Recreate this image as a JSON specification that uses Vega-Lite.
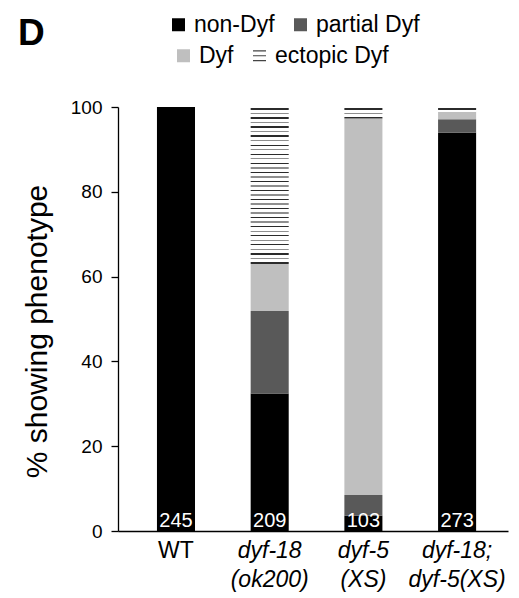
{
  "$schema": "https://vega.github.io/schema/vega-lite/v6.json",
  "autosize": "none",
  "width": 390,
  "height": 424,
  "padding": {"left": 118, "top": 107, "right": 11, "bottom": 67},
  "background": "white",
  "config": {"view": {"stroke": null}, "font": "Liberation Sans",
    "legend": {"title": null, "orient": "none", "direction": "horizontal", "symbolType": "square", "symbolSize": 169,
      "labelFontSize": 23, "labelFont": "Liberation Sans", "labelColor": "black", "labelOffset": 4,
      "columnPadding": 14, "symbolStrokeWidth": 0}},
  "title": {"text": "D", "anchor": "start", "frame": "group", "fontSize": 37, "fontWeight": "bold", "font": "Liberation Sans", "color": "black", "dx": -100, "baseline": "alphabetic", "offset": 0, "dy": 69},
  "data": {"values": [
    {"genotype": "WT", "category": "non-Dyf", "pct": 100, "n": 245},
    {"genotype": "WT", "category": "partial Dyf", "pct": 0, "n": 245},
    {"genotype": "WT", "category": "Dyf", "pct": 0, "n": 245},
    {"genotype": "WT", "category": "ectopic Dyf", "pct": 0, "n": 245},
    {"genotype": "dyf-18 (ok200)", "category": "non-Dyf", "pct": 32.4, "n": 209},
    {"genotype": "dyf-18 (ok200)", "category": "partial Dyf", "pct": 19.5, "n": 209},
    {"genotype": "dyf-18 (ok200)", "category": "Dyf", "pct": 11.1, "n": 209},
    {"genotype": "dyf-18 (ok200)", "category": "ectopic Dyf", "pct": 37.0, "n": 209},
    {"genotype": "dyf-5 (XS)", "category": "non-Dyf", "pct": 3.6, "n": 103},
    {"genotype": "dyf-5 (XS)", "category": "partial Dyf", "pct": 4.9, "n": 103},
    {"genotype": "dyf-5 (XS)", "category": "Dyf", "pct": 88.8, "n": 103},
    {"genotype": "dyf-5 (XS)", "category": "ectopic Dyf", "pct": 2.7, "n": 103},
    {"genotype": "dyf-18; dyf-5(XS)", "category": "non-Dyf", "pct": 93.9, "n": 273},
    {"genotype": "dyf-18; dyf-5(XS)", "category": "partial Dyf", "pct": 3.2, "n": 273},
    {"genotype": "dyf-18; dyf-5(XS)", "category": "Dyf", "pct": 1.8, "n": 273},
    {"genotype": "dyf-18; dyf-5(XS)", "category": "ectopic Dyf", "pct": 1.1, "n": 273}
  ]},
  "transform": [
    {"calculate": "indexof(['non-Dyf','partial Dyf','Dyf','ectopic Dyf'], datum.category)", "as": "ord"},
    {"stack": "pct", "groupby": ["genotype"], "sort": [{"field": "ord", "order": "ascending"}], "as": ["y0", "y1"]}
  ],
  "encoding": {
    "x": {
      "field": "genotype", "type": "nominal", "sort": null,
      "scale": {"paddingInner": 0.594, "paddingOuter": 0.378, "align": 0.55},
      "axis": {
        "title": null, "ticks": false, "domainColor": "black", "domainWidth": 1.3,
        "labelAngle": 0, "labelFontSize": 23, "labelColor": "black", "labelFont": "Liberation Sans",
        "labelLineHeight": 29, "labelPadding": 8,
        "labelExpr": "split(datum.label, ' ')",
        "labelFontStyle": {"condition": {"test": "datum.value === 'WT'", "value": "normal"}, "value": "italic"}
      }
    }
  },
  "resolve": {"scale": {"color": "independent"}, "legend": {"color": "independent"}},
  "layer": [
    {
      "transform": [{"filter": "datum.category === 'non-Dyf' || datum.category === 'partial Dyf'"}],
      "mark": {"type": "bar"},
      "encoding": {
        "y": {"field": "y1", "type": "quantitative", "scale": {"domain": [0, 100]},
          "axis": {"title": "% showing phenotype", "values": [0, 20, 40, 60, 80, 100], "grid": false,
            "tickSize": 7, "tickColor": "black", "tickWidth": 1.3, "domainColor": "black", "domainWidth": 1.3,
            "labelFontSize": 19, "labelColor": "black", "labelFont": "Liberation Sans", "labelPadding": 9,
            "titleFontSize": 30, "titleFontWeight": "normal", "titleColor": "black", "titleFont": "Liberation Sans",
            "titlePadding": 18, "titleY": 224}},
        "y2": {"field": "y0"},
        "color": {
          "field": "category", "type": "nominal",
          "scale": {"domain": ["non-Dyf", "partial Dyf"], "range": ["#000000", "#595959"]},
          "legend": {"legendX": 49, "legendY": -94}
        }
      }
    },
    {
      "transform": [{"filter": "datum.category === 'Dyf' || datum.category === 'ectopic Dyf'"}],
      "mark": {"type": "bar"},
      "encoding": {
        "y": {"field": "y1", "type": "quantitative"},
        "y2": {"field": "y0"},
        "color": {
          "field": "category", "type": "nominal",
          "scale": {"domain": ["Dyf", "ectopic Dyf"], "range": ["#bfbfbf", "#ffffff"]},
          "legend": {"legendX": 54, "legendY": -63,
            "encode": {"symbols": {"update": {
              "shape": {"signal": "datum.value === 'ectopic Dyf' ? 'M-1,-0.75H1M-1,0H1M-1,0.75H1' : 'square'"},
              "stroke": {"signal": "datum.value === 'ectopic Dyf' ? '#444444' : 'transparent'"},
              "strokeWidth": {"signal": "datum.value === 'ectopic Dyf' ? 1.2 : 0"}
            }}}
          }
        }
      }
    },
    {
      "transform": [{"filter": "datum.category === 'ectopic Dyf' && datum.genotype === 'dyf-18 (ok200)'"}],
      "mark": {"type": "bar", "fill": {"gradient": "linear", "x1": 0, "y1": 0, "x2": 0, "y2": 1, "stops": [
        {"offset": 0, "color": "#ffffff"},
        {"offset": 0.0083, "color": "#ffffff"}, {"offset": 0.0083, "color": "#2b2b2b"}, {"offset": 0.0172, "color": "#2b2b2b"}, {"offset": 0.0172, "color": "#ffffff"},
        {"offset": 0.0371, "color": "#ffffff"}, {"offset": 0.0371, "color": "#8f8f8f"}, {"offset": 0.0461, "color": "#8f8f8f"}, {"offset": 0.0461, "color": "#ffffff"},
        {"offset": 0.0660, "color": "#ffffff"}, {"offset": 0.0660, "color": "#2b2b2b"}, {"offset": 0.0749, "color": "#2b2b2b"}, {"offset": 0.0749, "color": "#ffffff"},
        {"offset": 0.0948, "color": "#ffffff"}, {"offset": 0.0948, "color": "#8f8f8f"}, {"offset": 0.1038, "color": "#8f8f8f"}, {"offset": 0.1038, "color": "#ffffff"},
        {"offset": 0.1237, "color": "#ffffff"}, {"offset": 0.1237, "color": "#2b2b2b"}, {"offset": 0.1326, "color": "#2b2b2b"}, {"offset": 0.1326, "color": "#ffffff"},
        {"offset": 0.1525, "color": "#ffffff"}, {"offset": 0.1525, "color": "#8f8f8f"}, {"offset": 0.1615, "color": "#8f8f8f"}, {"offset": 0.1615, "color": "#ffffff"},
        {"offset": 0.1814, "color": "#ffffff"}, {"offset": 0.1814, "color": "#2b2b2b"}, {"offset": 0.1903, "color": "#2b2b2b"}, {"offset": 0.1903, "color": "#ffffff"},
        {"offset": 0.2103, "color": "#ffffff"}, {"offset": 0.2103, "color": "#8f8f8f"}, {"offset": 0.2192, "color": "#8f8f8f"}, {"offset": 0.2192, "color": "#ffffff"},
        {"offset": 0.2391, "color": "#ffffff"}, {"offset": 0.2391, "color": "#2b2b2b"}, {"offset": 0.2480, "color": "#2b2b2b"}, {"offset": 0.2480, "color": "#ffffff"},
        {"offset": 0.2680, "color": "#ffffff"}, {"offset": 0.2680, "color": "#8f8f8f"}, {"offset": 0.2769, "color": "#8f8f8f"}, {"offset": 0.2769, "color": "#ffffff"},
        {"offset": 0.2968, "color": "#ffffff"}, {"offset": 0.2968, "color": "#2b2b2b"}, {"offset": 0.3057, "color": "#2b2b2b"}, {"offset": 0.3057, "color": "#ffffff"},
        {"offset": 0.3257, "color": "#ffffff"}, {"offset": 0.3257, "color": "#8f8f8f"}, {"offset": 0.3346, "color": "#8f8f8f"}, {"offset": 0.3346, "color": "#ffffff"},
        {"offset": 0.3545, "color": "#ffffff"}, {"offset": 0.3545, "color": "#2b2b2b"}, {"offset": 0.3634, "color": "#2b2b2b"}, {"offset": 0.3634, "color": "#ffffff"},
        {"offset": 0.3834, "color": "#ffffff"}, {"offset": 0.3834, "color": "#8f8f8f"}, {"offset": 0.3923, "color": "#8f8f8f"}, {"offset": 0.3923, "color": "#ffffff"},
        {"offset": 0.4122, "color": "#ffffff"}, {"offset": 0.4122, "color": "#2b2b2b"}, {"offset": 0.4211, "color": "#2b2b2b"}, {"offset": 0.4211, "color": "#ffffff"},
        {"offset": 0.4411, "color": "#ffffff"}, {"offset": 0.4411, "color": "#8f8f8f"}, {"offset": 0.4500, "color": "#8f8f8f"}, {"offset": 0.4500, "color": "#ffffff"},
        {"offset": 0.4699, "color": "#ffffff"}, {"offset": 0.4699, "color": "#2b2b2b"}, {"offset": 0.4789, "color": "#2b2b2b"}, {"offset": 0.4789, "color": "#ffffff"},
        {"offset": 0.4988, "color": "#ffffff"}, {"offset": 0.4988, "color": "#8f8f8f"}, {"offset": 0.5077, "color": "#8f8f8f"}, {"offset": 0.5077, "color": "#ffffff"},
        {"offset": 0.5276, "color": "#ffffff"}, {"offset": 0.5276, "color": "#2b2b2b"}, {"offset": 0.5366, "color": "#2b2b2b"}, {"offset": 0.5366, "color": "#ffffff"},
        {"offset": 0.5565, "color": "#ffffff"}, {"offset": 0.5565, "color": "#8f8f8f"}, {"offset": 0.5654, "color": "#8f8f8f"}, {"offset": 0.5654, "color": "#ffffff"},
        {"offset": 0.5854, "color": "#ffffff"}, {"offset": 0.5854, "color": "#2b2b2b"}, {"offset": 0.5943, "color": "#2b2b2b"}, {"offset": 0.5943, "color": "#ffffff"},
        {"offset": 0.6142, "color": "#ffffff"}, {"offset": 0.6142, "color": "#8f8f8f"}, {"offset": 0.6231, "color": "#8f8f8f"}, {"offset": 0.6231, "color": "#ffffff"},
        {"offset": 0.6431, "color": "#ffffff"}, {"offset": 0.6431, "color": "#2b2b2b"}, {"offset": 0.6520, "color": "#2b2b2b"}, {"offset": 0.6520, "color": "#ffffff"},
        {"offset": 0.6719, "color": "#ffffff"}, {"offset": 0.6719, "color": "#8f8f8f"}, {"offset": 0.6808, "color": "#8f8f8f"}, {"offset": 0.6808, "color": "#ffffff"},
        {"offset": 0.7008, "color": "#ffffff"}, {"offset": 0.7008, "color": "#2b2b2b"}, {"offset": 0.7097, "color": "#2b2b2b"}, {"offset": 0.7097, "color": "#ffffff"},
        {"offset": 0.7296, "color": "#ffffff"}, {"offset": 0.7296, "color": "#8f8f8f"}, {"offset": 0.7385, "color": "#8f8f8f"}, {"offset": 0.7385, "color": "#ffffff"},
        {"offset": 0.7585, "color": "#ffffff"}, {"offset": 0.7585, "color": "#2b2b2b"}, {"offset": 0.7674, "color": "#2b2b2b"}, {"offset": 0.7674, "color": "#ffffff"},
        {"offset": 0.7873, "color": "#ffffff"}, {"offset": 0.7873, "color": "#8f8f8f"}, {"offset": 0.7962, "color": "#8f8f8f"}, {"offset": 0.7962, "color": "#ffffff"},
        {"offset": 0.8162, "color": "#ffffff"}, {"offset": 0.8162, "color": "#2b2b2b"}, {"offset": 0.8251, "color": "#2b2b2b"}, {"offset": 0.8251, "color": "#ffffff"},
        {"offset": 0.8450, "color": "#ffffff"}, {"offset": 0.8450, "color": "#8f8f8f"}, {"offset": 0.8540, "color": "#8f8f8f"}, {"offset": 0.8540, "color": "#ffffff"},
        {"offset": 0.8739, "color": "#ffffff"}, {"offset": 0.8739, "color": "#2b2b2b"}, {"offset": 0.8828, "color": "#2b2b2b"}, {"offset": 0.8828, "color": "#ffffff"},
        {"offset": 0.9027, "color": "#ffffff"}, {"offset": 0.9027, "color": "#8f8f8f"}, {"offset": 0.9116, "color": "#8f8f8f"}, {"offset": 0.9116, "color": "#ffffff"},
        {"offset": 0.9316, "color": "#ffffff"}, {"offset": 0.9316, "color": "#2b2b2b"}, {"offset": 0.9405, "color": "#2b2b2b"}, {"offset": 0.9405, "color": "#ffffff"},
        {"offset": 0.9604, "color": "#ffffff"}, {"offset": 0.9604, "color": "#8f8f8f"}, {"offset": 0.9694, "color": "#8f8f8f"}, {"offset": 0.9694, "color": "#ffffff"},
        {"offset": 0.9893, "color": "#ffffff"}, {"offset": 0.9893, "color": "#2b2b2b"}, {"offset": 1, "color": "#2b2b2b"}
      ]}},
      "encoding": {"y": {"field": "y1", "type": "quantitative"}, "y2": {"field": "y0"}}
    },
    {
      "transform": [{"filter": "datum.category === 'ectopic Dyf' && datum.genotype === 'dyf-5 (XS)'"}],
      "mark": {"type": "bar", "fill": {"gradient": "linear", "x1": 0, "y1": 0, "x2": 0, "y2": 1, "stops": [
        {"offset": 0, "color": "#ffffff"},
        {"offset": 0.114, "color": "#ffffff"}, {"offset": 0.114, "color": "#2b2b2b"}, {"offset": 0.237, "color": "#2b2b2b"}, {"offset": 0.237, "color": "#ffffff"},
        {"offset": 0.526, "color": "#ffffff"}, {"offset": 0.526, "color": "#8f8f8f"}, {"offset": 0.649, "color": "#8f8f8f"}, {"offset": 0.649, "color": "#ffffff"},
        {"offset": 0.877, "color": "#ffffff"}, {"offset": 0.877, "color": "#2b2b2b"}, {"offset": 1, "color": "#2b2b2b"}
      ]}},
      "encoding": {"y": {"field": "y1", "type": "quantitative"}, "y2": {"field": "y0"}}
    },
    {
      "transform": [{"filter": "datum.category === 'ectopic Dyf' && datum.genotype === 'dyf-18; dyf-5(XS)'"}],
      "mark": {"type": "bar", "fill": {"gradient": "linear", "x1": 0, "y1": 0, "x2": 0, "y2": 1, "stops": [
        {"offset": 0, "color": "#ffffff"},
        {"offset": 0.28, "color": "#ffffff"}, {"offset": 0.28, "color": "#2b2b2b"}, {"offset": 0.57, "color": "#2b2b2b"}, {"offset": 0.57, "color": "#ffffff"},
        {"offset": 1, "color": "#ffffff"}
      ]}},
      "encoding": {"y": {"field": "y1", "type": "quantitative"}, "y2": {"field": "y0"}}
    },
    {
      "transform": [{"filter": "datum.category === 'non-Dyf'"}],
      "mark": {"type": "text", "baseline": "bottom", "color": "white", "fontSize": 20, "font": "Liberation Sans"},
      "encoding": {"y": {"datum": 0, "type": "quantitative"}, "text": {"field": "n", "type": "quantitative"}}
    }
  ]
}
